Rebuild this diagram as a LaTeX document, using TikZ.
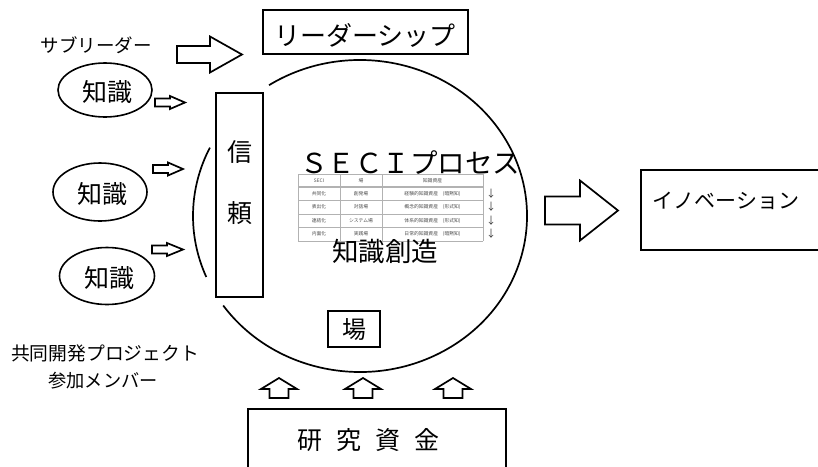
\documentclass[tikz,border=0pt]{standalone}
\usepackage{fontspec}
\setmainfont{Noto Sans CJK JP}
\usetikzlibrary{shapes.geometric}
\newcommand\fsz[1]{\fontsize{#1}{#1}\selectfont}
\newcommand\RightBlk[6]{% x0, xhead, xtip, cy, bodyhalf, headhalf
  \draw[blk] (#1,#4-#5) -- (#2,#4-#5) -- (#2,#4-#6) -- (#3,#4) -- (#2,#4+#6) -- (#2,#4+#5) -- (#1,#4+#5) -- cycle;}
\newcommand\UpBlk[1]{%
  \draw[blk] (#1-9.5,398) -- (#1-9.5,389) -- (#1-18,389) -- (#1,378) -- (#1+18,389) -- (#1+9.5,389) -- (#1+9.5,398) -- cycle;}
\begin{document}
\begin{tikzpicture}[x=1pt,y=-1pt,
  box/.style={draw, line width=2pt, fill=white, inner sep=0pt},
  blk/.style={draw, line width=1.7pt, fill=white, line join=miter},
  ring/.style={line width=1.7pt},
  txt/.style={inner sep=0pt},
  tline/.style={draw=black!30, line width=0.5pt},
  tcell/.style={inner sep=0pt, font=\fsz{4.8}, text=black!70},
]
\useasboundingbox (0,0) rectangle (818,466);

% circle (ellipse) arcs
\coordinate (cc) at (360,216);
\draw[ring] (cc) ++(123:167pt and 156pt) arc[start angle=123,end angle=-145,x radius=167pt,y radius=156pt];
\draw[ring] (cc) ++(154:167pt and 156pt) arc[start angle=154,end angle=203,x radius=167pt,y radius=156pt];

% leadership
\node[box, minimum width=205pt, minimum height=44pt] (lead) at (365.5,32) {};
\node[txt, font=\fsz{26}] (leadt) at (365,35) {リーダーシップ};
\node[txt, font=\fsz{18.5}] (sub) at (96,45) {サブリーダー};
\RightBlk{177}{210}{242}{54.5}{8.5}{18}

% knowledge ellipses
\node[draw, ellipse, line width=1.6pt, minimum width=94pt, minimum height=54pt, inner sep=0pt] (k1) at (105,90) {};
\node[txt, font=\fsz{25}] (k1t) at (107,92) {知識};
\node[draw, ellipse, line width=1.6pt, minimum width=94pt, minimum height=58pt, inner sep=0pt] (k2) at (100,192) {};
\node[txt, font=\fsz{25}] (k2t) at (102,194) {知識};
\node[draw, ellipse, line width=1.6pt, minimum width=95pt, minimum height=57pt, inner sep=0pt] (k3) at (107,276) {};
\node[txt, font=\fsz{25}] (k3t) at (109,278) {知識};
\RightBlk{155}{170}{185}{102.5}{4}{6.5}
\RightBlk{153}{168}{183}{169}{4}{6.5}
\RightBlk{152}{167}{183}{249.5}{4}{6.5}

% trust box
\node[box, minimum width=47pt, minimum height=204pt] (trust) at (239.5,195) {};
\node[txt, font=\fsz{25}] (tr1) at (240,152) {信};
\node[txt, font=\fsz{25}] (tr2) at (240,213) {頼};

% SECI
\node[txt, font=\fsz{27.5}] (seci) at (410,163) {ＳＥＣＩプロセス};

% table
\foreach \y in {174,200,214,227,241} \draw[tline] (298,\y) -- (483,\y);
\draw[draw=black!30, line width=1.6pt] (298,187) -- (483,187);
\foreach \x in {298,340,382,483} \draw[tline] (\x,174) -- (\x,241);
\node[tcell] (h1) at (319,180.5) {SECI};
\node[tcell] (h2) at (361,180.5) {場};
\node[tcell] (h3) at (432.5,180.5) {知識資産};
\foreach \r/\yy/\a/\b/\c in {1/193.5/共同化/創発場/経験的知識資産　(暗黙知),
                             2/207/表出化/対話場/概念的知識資産　(形式知),
                             3/220.5/連結化/システム場/体系的知識資産　(形式知),
                             4/234/内面化/実践場/日常的知識資産　(暗黙知)} {
  \node[tcell] (a\r) at (319,\yy) {\a};
  \node[tcell] (b\r) at (361,\yy) {\b};
  \node[tcell] (c\r) at (432.5,\yy) {\c};
  \node[txt, font=\fsz{10}, text=black!80] (d\r) at (491,\yy) {↓};
}

\node[txt, font=\fsz{26.5}] (create) at (385,251) {知識創造};

% ba
\node[box, minimum width=52pt, minimum height=36pt] (ba) at (354,329) {};
\node[txt, font=\fsz{24}] (bat) at (354,330) {場};

% up arrows and funding
\UpBlk{279}
\UpBlk{363}
\UpBlk{453}
\node[box, minimum width=258pt, minimum height=80pt, anchor=north west] (fund) at (247,408) {};
\node[txt, font=\fsz{25}] (fundt) at (368,440) {研\hspace{14pt}究\hspace{14pt}資\hspace{14pt}金};

% innovation
\RightBlk{545}{580}{618}{210.5}{14}{30}
\node[box, minimum width=200pt, minimum height=80pt, anchor=north west] (inno) at (640,169) {};
\node[txt, font=\fsz{21}] (innot) at (726,201) {イノベーション};

% members
\node[txt, font=\fsz{18.8}] (mem1) at (105,353) {共同開発プロジェクト};
\node[txt, font=\fsz{18.2}] (mem2) at (103,381) {参加メンバー};
\end{tikzpicture}
\end{document}
